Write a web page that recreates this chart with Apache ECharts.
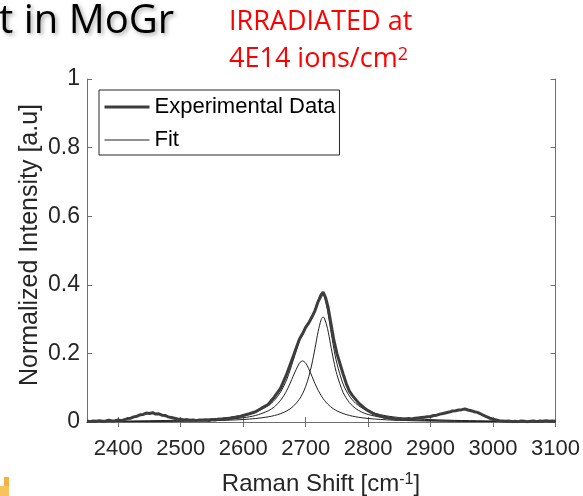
<!DOCTYPE html>
<html><head><meta charset="utf-8">
<script src="https://cdn.jsdelivr.net/npm/echarts@6/dist/echarts.min.js"></script>
<style>html,body{margin:0;padding:0;background:#fff;overflow:hidden}#c{width:583px;height:496px}</style>
</head><body><div id="c"></div>
<script>
// Experimental spectrum (Raman shift, normalized intensity)
const expX = [2350,2355,2360,2365,2370,2375,2380,2385,2390,2395,
  2400,2405,2410,2415,2420,2425,2430,2435,2440,2445,
  2450,2455,2460,2465,2470,2475,2480,2485,2490,2495,
  2500,2505,2510,2515,2520,2525,2530,2535,2540,2545,
  2550,2555,2560,2565,2570,2575,2580,2585,2590,2595,
  2600,2610,2620,2630,2640,2650,2660,2670,2680,2690,
  2695,2700,2705,2710,2715,2720,2725,2728,2732,2736,
  2740,2745,2750,2755,2760,2765,2770,2775,2780,2785,
  2790,2795,2800,2805,2810,2815,2820,2825,2830,2835,
  2840,2845,2850,2855,2860,2865,2870,2875,2880,2885,
  2890,2895,2900,2905,2910,2915,2920,2925,2930,2935,
  2940,2945,2950,2955,2960,2965,2970,2975,2980,2985,
  2990,2995,3000,3005,3010,3015,3020,3025,3030,3035,
  3040,3045,3050,3055,3060,3065,3070,3075,3080,3085,
  3090,3095,3100];
const expY = [0.003,0.001,0.003,0.002,0.004,0.002,0.003,0.005,0.003,0.004,
  0.006,0.004,0.007,0.010,0.011,0.015,0.017,0.021,0.022,0.026,
  0.025,0.027,0.023,0.024,0.020,0.019,0.015,0.013,0.011,0.009,
  0.008,0.006,0.007,0.005,0.006,0.004,0.006,0.005,0.006,0.004,
  0.007,0.006,0.008,0.007,0.009,0.010,0.011,0.013,0.015,0.016,
  0.019,0.024,0.030,0.041,0.051,0.073,0.099,0.141,0.191,0.241,
  0.257,0.276,0.289,0.306,0.325,0.351,0.369,0.379,0.362,0.334,
  0.292,0.240,0.200,0.170,0.140,0.112,0.090,0.077,0.066,0.055,
  0.047,0.039,0.033,0.028,0.023,0.020,0.017,0.014,0.013,0.011,
  0.010,0.008,0.009,0.007,0.009,0.010,0.009,0.011,0.012,0.013,
  0.014,0.015,0.016,0.019,0.020,0.023,0.025,0.027,0.029,0.032,
  0.033,0.035,0.036,0.038,0.035,0.033,0.030,0.028,0.024,0.019,
  0.015,0.011,0.008,0.006,0.004,0.003,0.002,0.003,0.001,0.002,
  0.001,0.003,0.002,0.001,0.002,0.003,0.001,0.003,0.002,0.004,
  0.002,0.003,0.002];
// Fit curves (total and two components)
const fitX = [2350,2400,2450,2500,2550,2580,2600,2620,2640,2650,2660,2670,2680,2690,2695,2700,2705,2710,2715,2720,2725,2728,2730,2735,2740,2745,2750,2760,2770,2780,2790,2800,2820,2840,2860,2880,2900,2950,3000,3050,3100];
const fitTotal = [0.0019,0.0025,0.0036,0.0054,0.0093,0.0142,0.0197,0.0293,0.0475,0.0634,0.0877,0.1250,0.1788,0.2380,0.2602,0.2750,0.2869,0.3026,0.3269,0.3563,0.3757,0.3742,0.3663,0.3255,0.2695,0.2156,0.1710,0.1106,0.0757,0.0546,0.0412,0.0322,0.0212,0.0150,0.0112,0.0086,0.0069,0.0043,0.0030,0.0022,0.0016];
const fitPeak1 = [0.0010,0.0014,0.0020,0.0031,0.0055,0.0087,0.0124,0.0191,0.0325,0.0445,0.0633,0.0925,0.1335,0.1716,0.1780,0.1716,0.1551,0.1335,0.1118,0.0925,0.0764,0.0682,0.0633,0.0529,0.0445,0.0379,0.0325,0.0246,0.0191,0.0152,0.0124,0.0103,0.0074,0.0055,0.0043,0.0034,0.0028,0.0018,0.0013,0.0010,0.0007];
const fitPeak2 = [0.0009,0.0011,0.0016,0.0023,0.0038,0.0055,0.0073,0.0102,0.0150,0.0189,0.0244,0.0325,0.0453,0.0664,0.0822,0.1034,0.1318,0.1691,0.2151,0.2638,0.2993,0.3060,0.3030,0.2726,0.2250,0.1777,0.1385,0.0860,0.0566,0.0394,0.0288,0.0219,0.0138,0.0095,0.0069,0.0052,0.0041,0.0025,0.0017,0.0012,0.0009];
const xTicks = [2400,2500,2600,2700,2800,2900,3000,3100];
const yTicks = [0,0.2,0.4,0.6,0.8,1];

const zip = (xs, ys) => xs.map((x, i) => [x, ys[i]]);
const axisCol = '#6e6e6e';
const txtCol = '#262626';
const font = 'Liberation Sans';

const chart = echarts.init(document.getElementById('c'), null, {renderer: 'canvas'});
const baseX = {
  type: 'value', min: 2350, max: 3100,
  axisLine: {show: true, lineStyle: {color: axisCol, width: 1}},
  splitLine: {show: false},
  axisTick: {show: true, inside: true, length: 5, lineStyle: {color: axisCol}, customValues: xTicks},
};
const baseY = {
  type: 'value', min: 0, max: 1,
  axisLine: {show: true, lineStyle: {color: axisCol, width: 1}},
  splitLine: {show: false},
  axisTick: {show: true, inside: true, length: 5, lineStyle: {color: axisCol}, customValues: yTicks},
};
chart.setOption({
  animation: false,
  backgroundColor: '#fff',
  grid: {left: 87, right: 26, top: 79, bottom: 74},
  xAxis: [
    Object.assign({}, baseX, {position: 'bottom',
      axisLabel: {show: true, customValues: xTicks, margin: 16, fontSize: 22, color: txtCol, fontFamily: font,
        formatter: v => String(v)}}),
    Object.assign({}, baseX, {position: 'top', axisLabel: {show: false}})
  ],
  yAxis: [
    Object.assign({}, baseY, {position: 'left',
      axisLabel: {show: true, customValues: yTicks, margin: 7, fontSize: 23, color: txtCol, fontFamily: font,
        formatter: v => String(v)}}),
    Object.assign({}, baseY, {position: 'right', axisLabel: {show: false}})
  ],
  legend: {
    data: [
      {name: 'Experimental Data', lineStyle: {width: 3, color: '#3d3d3d'}},
      {name: 'Fit', lineStyle: {width: 1, color: '#222'}}
    ],
    orient: 'vertical', left: 99, top: 90,
    padding: [4, 4, 2, 4], itemGap: 7, itemWidth: 45, itemHeight: 14, itemTextGap: 3,
    itemStyle: {opacity: 0},
    backgroundColor: '#fff', borderColor: '#262626', borderWidth: 1, borderRadius: 0,
    textStyle: {fontSize: 22, color: '#000', fontFamily: font, lineHeight: 26}
  },
  series: [
    {name: 'Fit', type: 'line', data: zip(fitX, fitPeak1), symbol: 'none', smooth: 0.3,
      lineStyle: {color: '#222', width: 1}, itemStyle: {color: '#222'}, z: 3},
    {name: 'Fit', type: 'line', data: zip(fitX, fitPeak2), symbol: 'none', smooth: 0.3,
      lineStyle: {color: '#222', width: 1}, itemStyle: {color: '#222'}, z: 3},
    {name: 'Fit', type: 'line', data: zip(fitX, fitTotal), symbol: 'none', smooth: 0.3,
      lineStyle: {color: '#222', width: 1}, itemStyle: {color: '#222'}, z: 3},
    {name: 'Experimental Data', type: 'line', data: zip(expX, expY), symbol: 'none',
      lineStyle: {color: '#3d3d3d', width: 3}, itemStyle: {color: '#3d3d3d'}, z: 5}
  ],
  graphic: [
    {type: 'text', x: -1, y: 22, style: {text: 't in MoGr', font: '40px "Open Sans"', fill: '#000', textVerticalAlign: 'middle',
      textShadowColor: 'rgba(0,0,0,0.35)', textShadowBlur: 4, textShadowOffsetX: 2, textShadowOffsetY: 2}},
    {type: 'text', x: 229, y: 22, style: {text: 'IRRADIATED at', font: '27px "Open Sans"', fill: '#ff0000', textVerticalAlign: 'middle'}},
    {type: 'text', x: 229, y: 59, style: {text: '4E14 ions/cm{s|2}', font: '27px "Open Sans"', fill: '#ff0000', textVerticalAlign: 'middle',
      rich: {s: {fontSize: 18, fontFamily: 'Open Sans', fill: '#ff0000', verticalAlign: 'top'}}}},
    {type: 'text', x: 321, y: 484, style: {text: 'Raman Shift [cm{s|-1}]', font: '24px "Liberation Sans"', fill: txtCol,
      textAlign: 'center', textVerticalAlign: 'middle', rich: {s: {fontSize: 16, fontFamily: 'Liberation Sans', fill: txtCol, verticalAlign: 'top'}}}},
    {type: 'text', x: 30, y: 245, rotation: Math.PI / 2, style: {text: 'Normalized Intensity [a.u]', font: '25px "Liberation Sans"', fill: txtCol,
      textAlign: 'center', textVerticalAlign: 'middle'}},
    {type: 'rect', shape: {x: 4, y: 477, width: 5, height: 19}, style: {fill: '#f5b041'}},
    {type: 'rect', shape: {x: 0, y: 486, width: 9, height: 10}, style: {fill: '#f8c25c'}}
  ]
});
</script></body></html>
